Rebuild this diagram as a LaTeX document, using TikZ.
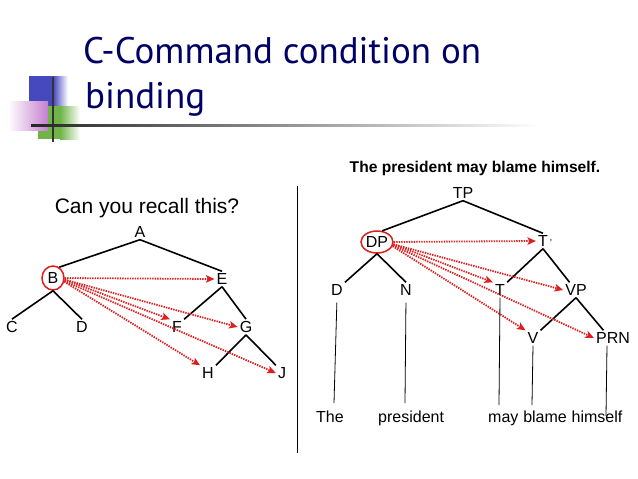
\documentclass[tikz,border=0pt]{standalone}
\usepackage{fontspec}
\setmainfont{Liberation Sans}
\newfontfamily\titlefont{PT Sans}
\usetikzlibrary{arrows.meta,shapes.geometric,calc}
\definecolor{navy}{RGB}{0,0,102}
\definecolor{arrred}{RGB}{222,30,30}
\definecolor{sqblue}{RGB}{70,72,190}
\definecolor{sqgreen}{RGB}{112,180,72}
\definecolor{sqpink}{RGB}{196,128,206}
\begin{document}
\begin{tikzpicture}[x=1pt,y=-1pt,
  lab/.style={font=\fontsize{16}{16}\selectfont, inner sep=2pt},
  word/.style={font=\fontsize{16}{16}\selectfont, inner sep=0pt, anchor=base west},
  edge/.style={line width=1.6pt},
  leaf/.style={line width=0.8pt},
  bind/.style={draw=arrred, line width=1.5pt, ellipse, inner sep=0pt},
  cc/.style={draw=arrred, line width=1.8pt, dash pattern=on 1.4pt off 1.1pt, -{Stealth[length=8.5pt,width=7.5pt,inset=2pt]}},
  ttl/.style={font=\titlefont\fontsize{37}{37}\selectfont, text=navy, inner sep=0pt, anchor=base west}
]
\useasboundingbox (0,0) rectangle (638,479);
\fill[white] (0,0) rectangle (638,479);
% decoration
\fill[sqblue] (29,76) rectangle (53,107);
\shade[left color=sqblue, right color=white] (53,76) rectangle (68,107);
\fill[sqgreen] (38,106) rectangle (60,139);
\shade[left color=sqgreen, right color=white] (60,106) rectangle (80,139);
\shade[left color=white, right color=sqpink] (8,101) rectangle (48,130);
\draw[line width=1.2pt, black!80] (53,77) -- (53,142);
\shade[left color=black!85, right color=white] (31,124.3) rectangle (540,126.3);
% title
\node[ttl] (t1) at (83,63) {C-Command condition on};
\node[ttl] (t2) at (85,108) {binding};
% left tree
\node[font=\fontsize{21}{21}\selectfont, inner sep=0pt] (q) at (147,208) {Can you recall this?};
\node[lab] (A) at (140,232) {A};
\node[lab, bind, minimum width=22pt, minimum height=24pt] (B) at (53,278) {B};
\node[lab] (C) at (12,327) {C};
\node[lab] (D) at (82,327) {D};
\node[lab] (E) at (222,279) {E};
\node[lab] (F) at (177,327) {F};
\node[lab] (G) at (246,327) {G};
\node[lab] (H) at (208,373) {H};
\node[lab] (J) at (282,373) {J};
\draw[edge] (A.south) -- (B.60);
\draw[edge] (A.south) -- (E.north);
\draw[edge] (B.south) -- (C.north);
\draw[edge] (B.south) -- (D.north);
\draw[edge] (E.south) -- (F.north east);
\draw[edge] (E.south) -- (G.north);
\draw[edge] (G.south) -- (H.north east);
\draw[edge] (G.south) -- (J.north west);
\draw[cc] (B.east) -- (E.west);
\draw[cc] (B.-8) -- (F.north west);
\draw[cc] (B.-8) -- (G.west);
\draw[cc] (B.-18) -- (H.north west);
\draw[cc] (B.-15) -- (J.west);
% divider
\draw[line width=1pt] (297,186) -- (297,453);
% right tree
\node[font=\bfseries\fontsize{15.6}{15.6}\selectfont, inner sep=0pt] (s) at (475,168) {The president may blame himself.};
\node[lab] (TP) at (463,193) {TP};
\node[lab, bind, minimum width=32pt, minimum height=22pt] (DP) at (377,242) {DP};
\node[lab] (Tb) at (543,241) {T\rlap{\hspace{2pt}\fontsize{10}{10}\selectfont ’}};
\node[lab] (D2) at (337,290) {D};
\node[lab] (N) at (406,290) {N};
\node[lab] (T) at (500,290) {T};
\node[lab] (VP) at (576,290) {VP};
\node[lab] (V) at (533,338) {V};
\node[lab] (PRN) at (613,338) {PRN};
\draw[edge] (TP.south) -- (DP.65);
\draw[edge] (TP.south) -- (Tb.north);
\draw[edge] (DP.south) -- (D2.north east);
\draw[edge] (DP.south) -- (N.north);
\draw[edge] (Tb.south) -- (T.north east);
\draw[edge] (Tb.south) -- ($(VP.north)!0.5!(VP.north west)$);
\draw[edge] (VP.south) -- (V.north east);
\draw[edge] (VP.south) -- ($(PRN.north)!0.5!(PRN.north west)$);
\draw[cc] (DP.east) -- (Tb.west);
\draw[cc] (DP.-8) -- (T.north west);
\draw[cc] (DP.-8) -- (VP.west);
\draw[cc] (DP.-15) -- (V.north west);
\draw[cc] (DP.-12) -- (PRN.west);
% words
\node[word] (w1) at (316,422.5) {The};
\node[word] (w2) at (378,422.5) {president};
\node[word] (w3) at (488,422.5) {may};
\node[word] (w4) at ([xshift=4.45pt]w3.base east) {blame};
\node[word] (w5) at ([xshift=4.45pt]w4.base east) {himself};
\coordinate (e1) at (334,403);
\coordinate (e2) at (405,403);
\coordinate (e3) at (499,405);
\coordinate (e4) at (532,405);
\coordinate (e5) at (606,416);
\draw[leaf, shorten <=5pt] (D2.south) -- (e1);
\draw[leaf, shorten <=5pt] (N.south) -- (e2);
\draw[leaf] (T.south) -- (e3);
\draw[leaf] (V.south) -- (e4);
\draw[leaf] ([xshift=-6pt]PRN.south) -- (e5);
\end{tikzpicture}
\end{document}
